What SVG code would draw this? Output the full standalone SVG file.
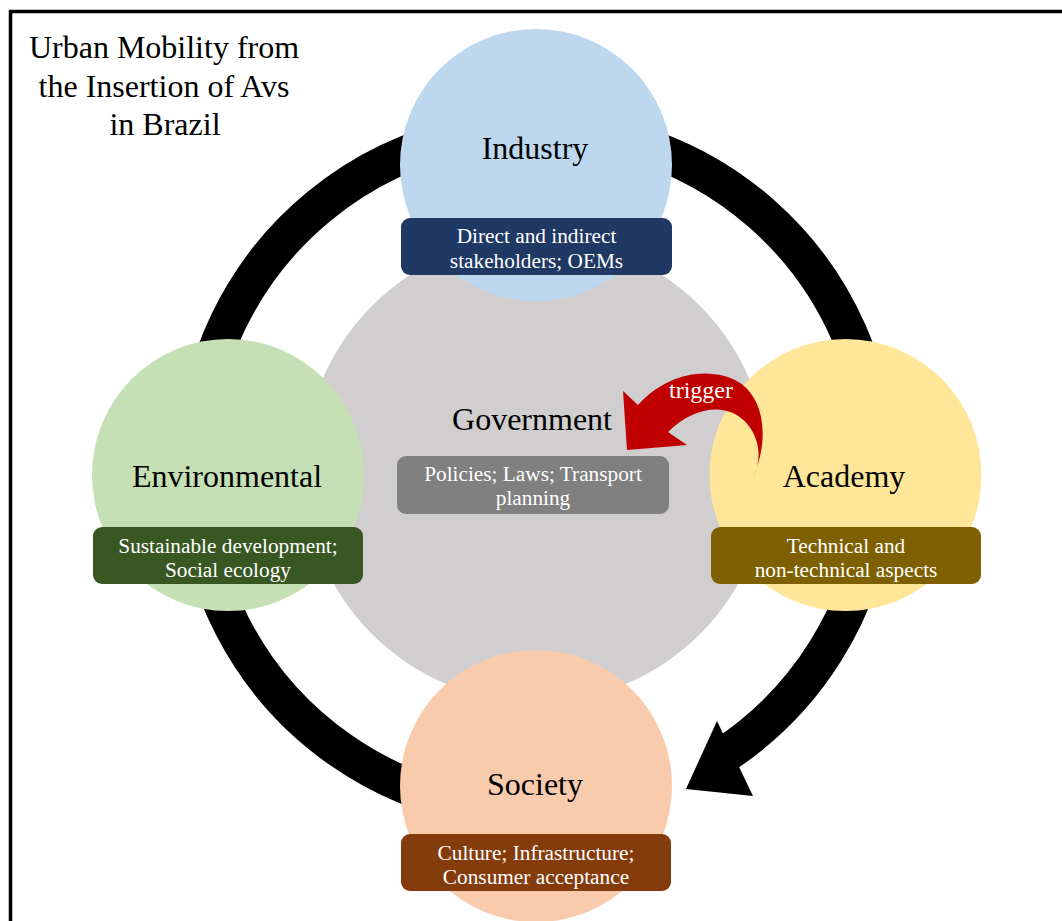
<svg xmlns="http://www.w3.org/2000/svg" width="1062" height="921" viewBox="0 0 1062 921">
  <style>
    .big { font-family: "Liberation Serif", "Times New Roman", serif; font-size: 32px; fill: #000; text-anchor: middle; }
    .small { font-family: "Liberation Serif", "Times New Roman", serif; font-size: 21.3px; fill: #FFFFFF; text-anchor: middle; }
    .box { stroke: none; }
  </style>
  <rect x="0" y="0" width="1062" height="921" fill="#FFFFFF"/>
  <rect x="10.5" y="11.5" width="1060" height="920" fill="none" stroke="#000" stroke-width="3.5"/>

  <g id="title">
    <text class="big" x="164" y="58">Urban Mobility from</text>
    <text class="big" x="164" y="97">the Insertion of Avs</text>
    <text class="big" x="165" y="135">in Brazil</text>
  </g>

  <g id="connectors">
    <path d="M 476.7 806.3 A 341.5 341.5 0 1 1 722 756.4" fill="none" stroke="#000" stroke-width="37"/>
    <polygon points="717,721 686,789 753,796" fill="#000"/>
  </g>

  <g id="government">
    <circle cx="536" cy="470" r="232" fill="#D0CECE"/>
    <text class="big" x="532" y="430">Government</text>
    <rect class="box" x="397" y="456" width="272" height="58" rx="9" fill="#808080"/>
    <text class="small" x="533" y="481">Policies; Laws; Transport</text>
    <text class="small" x="533" y="505">planning</text>
  </g>

  <g id="industry">
    <circle cx="536" cy="165" r="136" fill="#BDD7EE"/>
    <text class="big" x="535" y="159">Industry</text>
    <rect class="box" x="401" y="218" width="271" height="57" rx="9" fill="#203864"/>
    <text class="small" x="536.5" y="243">Direct and indirect</text>
    <text class="small" x="536.5" y="268">stakeholders; OEMs</text>
  </g>

  <g id="environmental">
    <circle cx="228" cy="475" r="136" fill="#C5E0B4"/>
    <text class="big" x="227" y="487">Environmental</text>
    <rect class="box" x="93" y="527" width="270" height="57" rx="9" fill="#385723"/>
    <text class="small" x="228" y="553">Sustainable development;</text>
    <text class="small" x="228" y="577">Social ecology</text>
  </g>

  <g id="academy">
    <circle cx="845.5" cy="475" r="136" fill="#FFE699"/>
    <text class="big" x="844" y="487">Academy</text>
    <rect class="box" x="711" y="527" width="270" height="57" rx="9" fill="#7F6000"/>
    <text class="small" x="846" y="553">Technical and</text>
    <text class="small" x="846" y="577">non-technical aspects</text>
  </g>

  <g id="society">
    <circle cx="536" cy="786" r="136" fill="#F8CBAD"/>
    <text class="big" x="535" y="795">Society</text>
    <rect class="box" x="401" y="834" width="270" height="57" rx="9" fill="#843C0C"/>
    <text class="small" x="536" y="860">Culture; Infrastructure;</text>
    <text class="small" x="536" y="884">Consumer acceptance</text>
  </g>

  <g id="trigger">
    <path d="M 753 477 C 770 440, 765 395, 735 380 C 705 366, 665 375, 638 405 L 623 391 L 627 450 L 687 445 L 668 432 C 695 405, 730 402, 748 425 C 760 440, 762 460, 753 477 Z" fill="#C00000"/>
    <text x="701" y="398" font-family="Liberation Serif, serif" font-size="24" fill="#FFFFFF" text-anchor="middle">trigger</text>
  </g>
</svg>
